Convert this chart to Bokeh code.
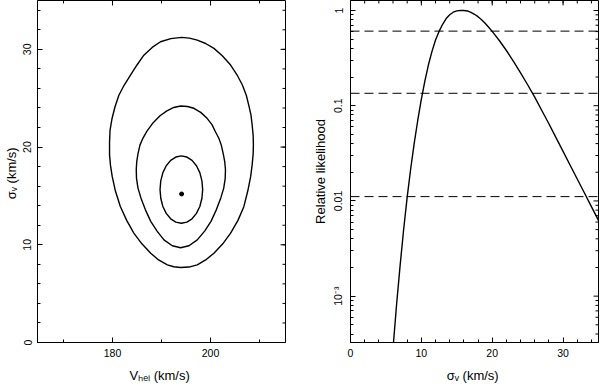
import math
from bokeh.plotting import figure
from bokeh.layouts import row
from bokeh.models import Range1d, FixedTicker, Span
from bokeh.embed import file_html
from bokeh.resources import INLINE

FONT = "Liberation Sans"

# ---- left panel: likelihood contours in (V_hel, sigma_v) ----
outer_v = [194.1, 195.7, 197.3, 199.0, 200.7, 202.4, 204.1, 205.4, 206.5, 207.3, 207.8, 208.25,
           208.5, 208.7, 208.75, 208.7, 208.5, 208.2, 207.6, 206.8, 205.6, 204.1, 202.5, 200.7,
           199.0, 197.3, 195.6, 193.9, 192.5, 191.2, 189.4, 187.8, 186.0, 184.35, 182.9, 181.6,
           180.6, 179.95, 179.6, 179.4, 179.4, 179.5, 179.9, 180.5, 181.3, 182.4, 183.7, 185.0,
           186.4, 188.1, 189.8, 191.9, 194.1]
outer_s = [31.23, 31.15, 30.95, 30.6, 30.1, 29.35, 28.39, 27.4, 26.35, 25.3, 24.3, 23.3,
           22.26, 21.2, 20.3, 19.3, 18.2, 17.0, 15.5, 13.9, 12.5, 11.19, 10.1, 9.14,
           8.45, 7.94, 7.72, 7.67, 7.75, 7.94, 8.45, 9.14, 10.1, 11.19, 12.5, 13.91,
           15.5, 16.97, 18.1, 19.2, 20.5, 21.7, 22.9, 24.1, 25.3, 26.35, 27.4, 28.4,
           29.4, 30.2, 30.78, 31.1, 31.23]

middle_v = [193.9, 195.3, 196.6, 198.0, 199.3, 200.3, 201.0, 201.7, 202.2, 202.6, 202.9, 203.05,
            203.0, 202.7, 202.1, 201.2, 200.1, 198.8, 197.3, 195.6, 193.9, 192.2, 190.5, 189.1,
            187.8, 186.7, 185.8, 185.2, 184.9, 184.85, 184.95, 185.2, 185.6, 186.2, 187.0, 188.3,
            189.7, 191.1, 192.5, 193.9]
middle_s = [24.2, 24.15, 23.97, 23.55, 22.94, 22.3, 21.57, 20.9, 20.2, 19.3, 18.5, 17.7,
            16.8, 15.8, 14.8, 13.6, 12.4, 11.4, 10.5, 9.9, 9.7, 9.9, 10.5, 11.4,
            12.4, 13.6, 14.8, 15.8, 16.8, 17.7, 18.5, 19.3, 20.2, 20.9, 21.6, 22.5,
            23.2, 23.7, 24.05, 24.2]

inner_v = [194.05, 195.18, 196.23, 197.13, 197.82, 198.25, 198.40, 198.25, 197.82, 197.13, 196.23, 195.18,
           194.05, 192.92, 191.87, 190.97, 190.28, 189.85, 189.70, 189.85, 190.28, 190.97, 191.87, 192.92,
           194.05]
inner_s = [19.10, 18.98, 18.64, 18.09, 17.38, 16.54, 15.65, 14.76, 13.92, 13.21, 12.66, 12.32,
           12.20, 12.32, 12.66, 13.21, 13.92, 14.76, 15.65, 16.54, 17.38, 18.09, 18.64, 18.98,
           19.10]

best_v = [194.1]
best_s = [15.2]

# ---- right panel: marginal relative likelihood of sigma_v ----
sigma_v = [6.0, 6.5, 7.0, 7.5, 8.0, 8.5, 9.0, 9.5, 10.0, 10.5, 11.0, 11.5, 12.0, 12.5, 13.0,
           13.5, 14.0, 14.5, 15.0, 15.5, 16.0, 16.5, 17.0, 17.5, 18.0, 18.5, 19.0, 19.5, 20.0,
           21.0, 22.0, 23.0, 24.0, 25.0, 26.0, 27.0, 28.0, 29.0, 30.0, 31.0, 32.0, 33.0, 34.0, 35.0]
rel_like = [2.82e-4, 8.13e-4, 2.09e-3, 5.01e-3, 0.01096, 0.0219, 0.0407, 0.0708, 0.1175, 0.182,
            0.269, 0.372, 0.490, 0.603, 0.716, 0.822, 0.902, 0.959, 0.991, 0.998, 1.0, 0.989,
            0.955, 0.912, 0.861, 0.80, 0.733, 0.667, 0.603, 0.484, 0.380, 0.292, 0.221, 0.166,
            0.123, 0.0891, 0.0646, 0.0462, 0.0331, 0.0237, 0.0170, 0.0122, 0.00871, 0.00624]

levels = [0.607, 0.135, 0.0111]

left_x_major = [180, 200]
left_x_minor = [170, 190, 210]
left_y_major = [0, 10, 20, 30]
left_y_minor = list(range(0, 36, 2))
right_x_major = [0, 10, 20, 30]
right_x_minor = list(range(0, 36, 2))
right_y_major = [1e-3, 1e-2, 1e-1, 1.0]
right_y_labels = ["10\u207b\u00b3", "0.01", "0.1", "1"]
right_y_minor = [m * d for d in (1e-4, 1e-3, 1e-2, 1e-1) for m in range(2, 10)]

X1 = (164.7, 215.3)
Y1 = (0.0, 35.0)
X2 = (0.0, 35.0)
Y2 = (3.26e-4, 1.273)

FW1, FW2, FH = 248, 248, 342
MAJ, MIN = 5, 3


def style(ax, label, orient=None):
    ax.major_tick_in = MAJ
    ax.major_tick_out = 0
    ax.minor_tick_in = MIN
    ax.minor_tick_out = 0
    ax.axis_line_color = "black"
    ax.major_tick_line_color = "black"
    ax.minor_tick_line_color = "black"
    ax.major_label_text_font = FONT
    ax.major_label_text_color = "black"
    ax.major_label_text_font_size = "10.5px"
    ax.major_label_standoff = 6
    if orient is not None:
        ax.major_label_orientation = orient
        ax.major_label_standoff = 6
    ax.axis_label = label
    ax.axis_label_text_font = FONT
    ax.axis_label_text_font_style = "normal"
    ax.axis_label_text_font_size = "13px"
    ax.axis_label_text_color = "black"
    ax.axis_label_standoff = 8 if orient is None else 2


def base_fig(**kw):
    p = figure(output_backend="svg", toolbar_location=None, **kw)
    p.xgrid.visible = False
    p.ygrid.visible = False
    p.outline_line_color = "black"
    p.background_fill_color = "white"
    p.border_fill_color = "white"
    return p


def mirror_ticks(p, xr, yr, fw, fh, xmaj, xmin, ymaj, ymin, ylog=False):
    """Inward ticks on the top and right frame edges, at the same tick values."""
    dx = (xr[1] - xr[0]) / fw
    for ticks, L in ((xmaj, MAJ), (xmin, MIN)):
        xs = [t for t in ticks if xr[0] <= t <= xr[1]]
        if ylog:
            f = 10 ** (L * (math.log10(yr[1]) - math.log10(yr[0])) / fh)
            y0, y1 = yr[1], yr[1] / f
        else:
            y0, y1 = yr[1], yr[1] - L * (yr[1] - yr[0]) / fh
        p.segment(x0=xs, y0=[y0] * len(xs), x1=xs, y1=[y1] * len(xs),
                  line_color="black", line_width=1)
    for ticks, L in ((ymaj, MAJ), (ymin, MIN)):
        ys = [t for t in ticks if yr[0] <= t <= yr[1]]
        p.segment(x0=[xr[1]] * len(ys), y0=ys, x1=[xr[1] - L * dx] * len(ys), y1=ys,
                  line_color="black", line_width=1)


# ---------------- left ----------------
p1 = base_fig(frame_width=FW1, frame_height=FH,
              x_range=Range1d(*X1), y_range=Range1d(*Y1),
              min_border_left=0, min_border_right=24, min_border_top=0, min_border_bottom=0)
p1.xaxis.ticker = FixedTicker(ticks=left_x_major, minor_ticks=left_x_minor)
p1.yaxis.ticker = FixedTicker(ticks=left_y_major, minor_ticks=left_y_minor)
style(p1.xaxis[0], "V\u2095\u2091\u2097  (km/s)")
style(p1.yaxis[0], "\u03c3\u1d65  (km/s)", orient="parallel")
mirror_ticks(p1, X1, Y1, FW1, FH, left_x_major, left_x_minor, left_y_major, left_y_minor)

for xs, ys in ((outer_v, outer_s), (middle_v, middle_s), (inner_v, inner_s)):
    p1.line(xs, ys, line_color="black", line_width=1.4)
p1.scatter(best_v, best_s, size=4, color="black")

# ---------------- right ----------------
p2 = base_fig(frame_width=FW2, frame_height=FH, y_axis_type="log",
              x_range=Range1d(*X2), y_range=Range1d(*Y2),
              min_border_left=0, min_border_right=1, min_border_top=0, min_border_bottom=0)
p2.xaxis.ticker = FixedTicker(ticks=right_x_major, minor_ticks=right_x_minor)
p2.yaxis.ticker = FixedTicker(ticks=right_y_major, minor_ticks=right_y_minor)
style(p2.xaxis[0], "\u03c3\u1d65  (km/s)")
style(p2.yaxis[0], "Relative likelihood", orient="parallel")
p2.yaxis[0].major_label_overrides = dict(zip(right_y_major, right_y_labels))
mirror_ticks(p2, X2, Y2, FW2, FH, right_x_major, right_x_minor, right_y_major, right_y_minor, ylog=True)

for lev in levels:
    p2.add_layout(Span(location=lev, dimension="width", line_color="black",
                       line_width=1, line_dash="9 5"))
p2.line(sigma_v, rel_like, line_color="black", line_width=1.4)

layout = row(p1, p2)
open("out.html", "w").write(file_html(layout, INLINE))
